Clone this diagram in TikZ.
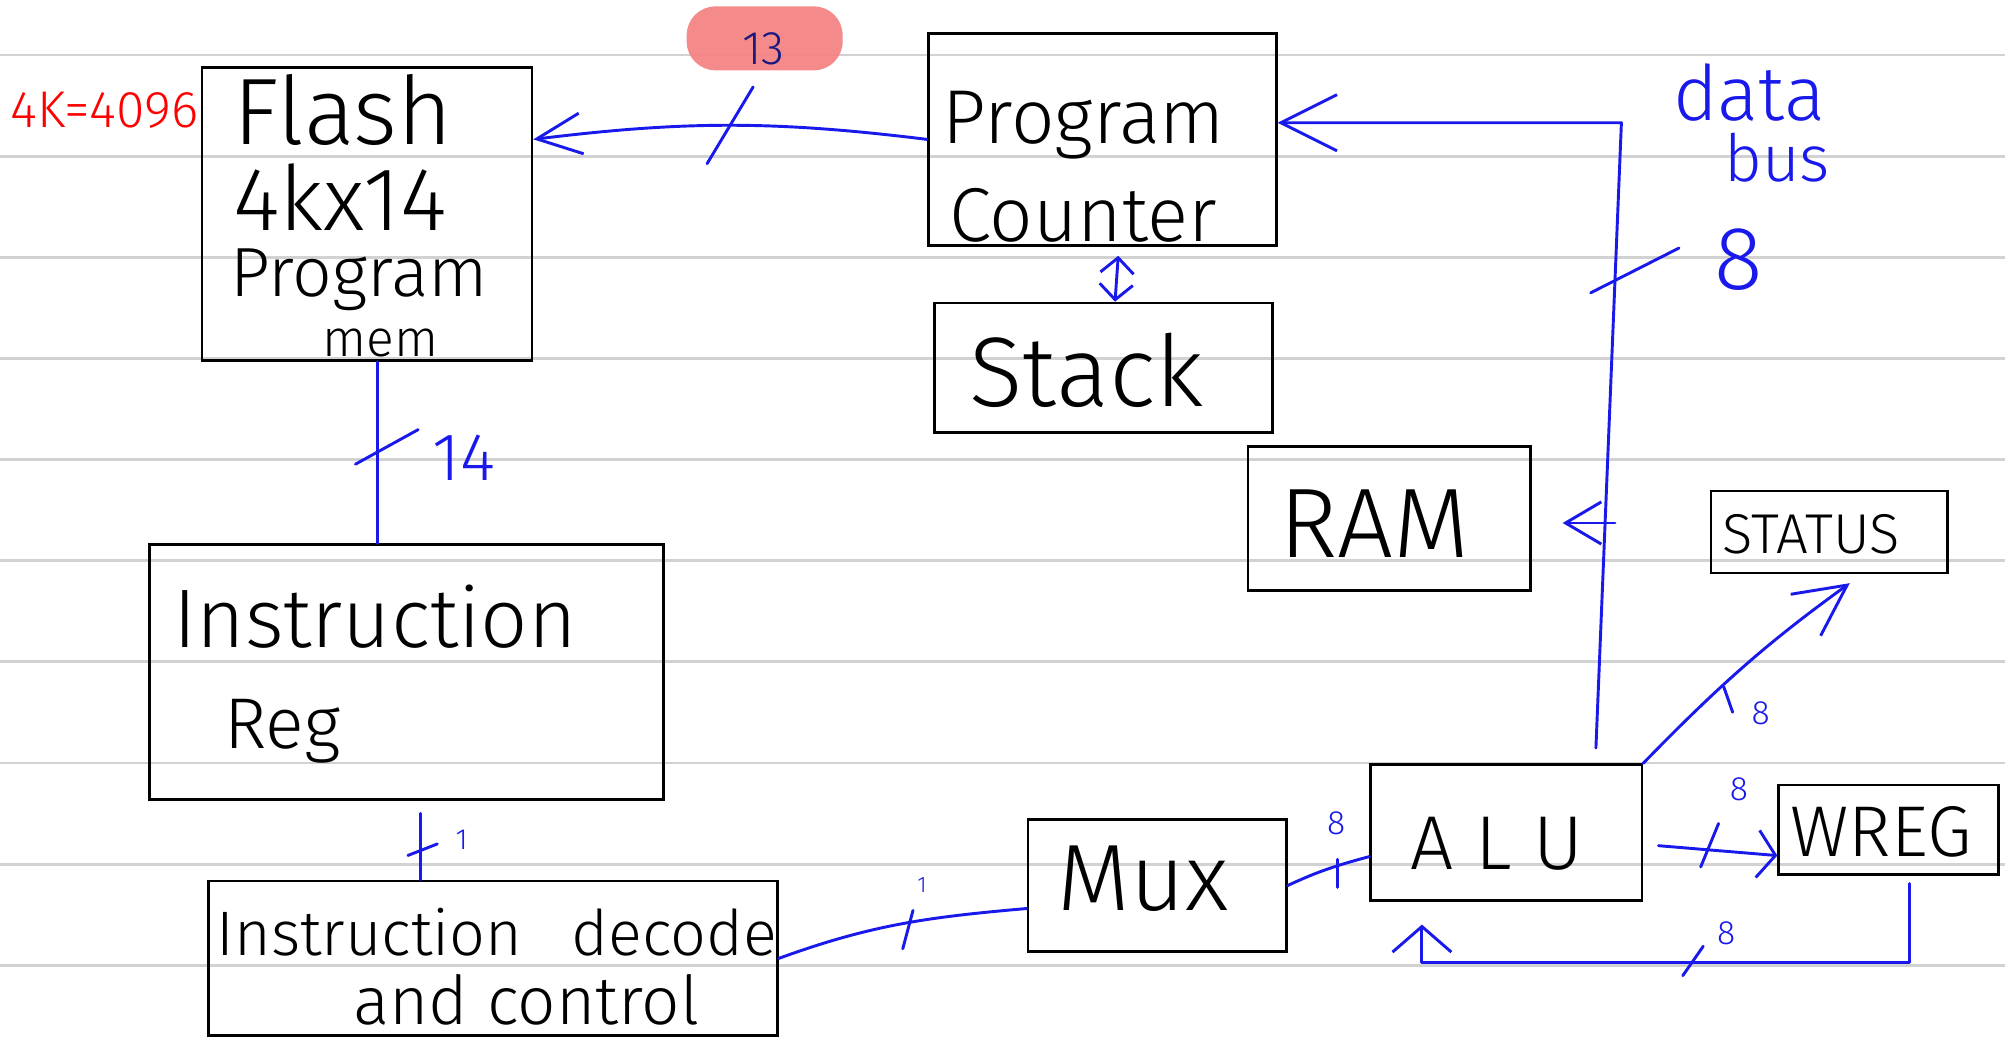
\documentclass[tikz,border=0pt]{standalone}
\usepackage{fontspec}
\setmainfont{Fira Sans Light}
\usetikzlibrary{arrows.meta,fit,calc}
\definecolor{pen}{RGB}{25,25,235}
\definecolor{rulegray}{RGB}{210,210,210}
\definecolor{hl}{RGB}{244,126,126}
\definecolor{navy}{RGB}{25,25,130}
\newcommand{\fsz}[1]{\fontsize{#1}{#1}\selectfont}
\begin{document}
\begin{tikzpicture}[x=0.02cm,y=-0.02cm,
  box/.style={draw=black, line width=1.2pt, inner sep=0pt},
  wire/.style={draw=pen, line width=1.3pt, line cap=round, line join=round},
  rule/.style={draw=rulegray, line width=1.3pt},
  lbl/.style={inner sep=0pt, anchor=base west},
  blbl/.style={text=pen, inner sep=0pt}]
\useasboundingbox (0,0) rectangle (1568,817);
\fill[white] (0,0) rectangle (1568,817);
\foreach \r in {0,...,9} \draw[rule] (0,{43+79.1*\r}) -- (1568,{43+79.1*\r});

% highlight badge
\node[fill=hl, fill opacity=0.9, rounded corners=0.45cm, inner sep=0pt, fit={(537,5) (659,55)}] (badge) {};

% boxes
\node[box, fit={(158,53) (416,282)}] (flash) {};
\node[box, fit={(726,26) (998,192)}] (pc) {};
\node[box, fit={(731,237) (995,338)}] (stack) {};
\node[box, fit={(976,349) (1197,462)}] (ram) {};
\node[box, fit={(1338,384) (1523,448)}] (status) {};
\node[box, fit={(117,426) (519,625)}] (ir) {};
\node[box, fit={(163,689) (608,810)}] (decode) {};
\node[box, fit={(804,641) (1006,744)}] (mux) {};
\node[box, fit={(1072,598) (1284,704)}] (alu) {};
\node[box, fit={(1391,614) (1563,684)}] (wreg) {};

% texts
\node[lbl, text=red, font=\fsz{23}] (k4096) at (8,100) {4K=4096};
\node[lbl, font=\fsz{42}] (tflash) at (182,113) {Flash};
\node[lbl, font=\fsz{40}] (t4k) at (182,180) {4kx14};
\node[lbl, font=\fsz{31}] (tprogA) at (180,232) {Program};
\node[lbl, font=\fsz{23}] (tmem) at (252,279) {mem};
\node[lbl, font=\fsz{34}] (tprogB) at (737,112) {Program};
\node[lbl, font=\fsz{34}] (tcount) at (742,189) {Counter};
\node[lbl, font=\fsz{44}] (tstack) at (758,318) {Stack};
\node[lbl, font=\fsz{44}] (tram) at (1000,436) {RAM};
\node[lbl, font=\fsz{25}] (tstatus) at (1347,433) {STATUS};
\node[lbl, font=\fsz{34}] (talu) at (1103,680) {A L U};
\node[lbl, font=\fsz{32}] (twreg) at (1400,670) {WREG};
\node[lbl, font=\fsz{42}] (tmux) at (827,712) {Mux};
\node[lbl, font=\fsz{37}] (tinstr) at (135,506) {Instruction};
\node[lbl, font=\fsz{32}] (treg) at (175,585) {Reg};
\node[lbl, font=\fsz{28}] (tdec) at (169,747) {Instruction\hspace{22pt}decode};
\node[lbl, font=\fsz{30}] (tand) at (276,801) {and control};
\node[lbl, text=pen, font=\fsz{34}] (tdata) at (1308,94) {data};
\node[lbl, text=pen, font=\fsz{29}] (tbus) at (1348,142) {bus};

% width labels
\node[blbl, text=navy, font=\fsz{21}] (n13) at (597,38) {13};
\node[blbl, font=\fsz{30}] (n14) at (363,358) {14};
\node[blbl, font=\fsz{40}] (n8bus) at (1360,203) {8};
\node[blbl, font=\fsz{13}] (n1a) at (361,657) {1};
\node[blbl, font=\fsz{10}] (n1b) at (721,692) {1};
\node[blbl, font=\fsz{15}] (n8mux) at (1045,644) {8};
\node[blbl, font=\fsz{15}] (n8wreg) at (1360,617) {8};
\node[blbl, font=\fsz{15}] (n8stat) at (1377,558) {8};
\node[blbl, font=\fsz{15}] (n8fb) at (1350,730) {8};

% connectors
% PC -> Flash (13)
\draw[wire, -{Straight Barb[length=0.7cm,width=0.64cm]}] (pc.west) to[bend right=7] (flash.east |- pc.west);
\draw[wire] (589,68) -- (553,128);

% data bus ALU -> PC
\coordinate (bustop) at (1268,96);
\draw[wire, shorten <=0.24cm, -{Straight Barb[length=0.88cm,width=0.88cm]}]
  ($(alu.north)!0.65!(alu.north east)$) -- (bustop) -- (pc.east |- bustop);
\draw[wire] (1244,229) -- (1313,194);

% bus -> RAM
\coordinate (ramtap) at (1263,409);
\draw[wire, shorten >=0.48cm, -{Straight Barb[length=0.56cm,width=0.66cm]}] (ramtap) -- (ram.east |- ramtap);

% Flash -> IR (14)
\coordinate (f14) at ($(flash.south)+(8,0)$);
\draw[wire] (f14) -- (f14 |- ir.north);
\draw[wire] (278,363) -- (327,336);

% IR -> decode (1)
\coordinate (i1) at ($(ir.south)+(11,0)$);
\draw[wire, shorten <=0.2cm] (i1) -- (i1 |- decode.north);
\draw[wire] (319,669) -- (342,660);

% decode -> Mux
\draw[wire] (decode.east) to[out=20,in=185] (mux.190);
\draw[wire] (714,712) -- (706,742);

% Mux -> ALU
\draw[wire] (mux.east) to[out=25,in=195] (alu.190);
\draw[wire] (1046,672) -- (1046,694);

% ALU -> WREG
\draw[wire, shorten <=0.24cm, -{Straight Barb[length=0.28cm,width=0.74cm]}] (alu.-5) -- (wreg.193);
\draw[wire] (1344,644) -- (1330,678);

% ALU -> STATUS
\draw[wire, shorten >=0.24cm, -{Straight Barb[length=0.8cm,width=0.8cm]}] (alu.north east) to[bend left=5] (status.-52);
\draw[wire] (1348,537) -- (1355,557);

% WREG -> ALU feedback
\coordinate (wb) at ($(wreg.south)+(16,0)$);
\coordinate (ab) at ($(alu.south)+(-66,0)$);
\draw[wire, shorten <=0.12cm, shorten >=0.36cm, -{Straight Barb[length=0.4cm,width=0.92cm]}] (wb) -- ++(0,68) -| (ab);
\draw[wire] (1316,763) -- (1332,740);

% PC <-> Stack
\draw[wire, shorten <=0.14cm, {Straight Barb[length=0.24cm,width=0.52cm]}-{Straight Barb[length=0.24cm,width=0.52cm]}]
  ($(pc.south)+(13,0)$) -- ($(stack.north)+(9,0)$);
\end{tikzpicture}
\end{document}
